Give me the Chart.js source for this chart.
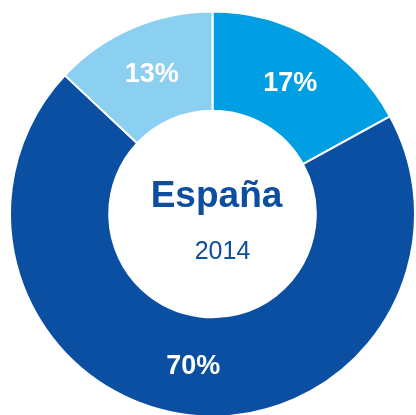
<!DOCTYPE html>
<html>
<head>
<meta charset="utf-8">
<script src="https://cdn.jsdelivr.net/npm/chart.js@4/dist/chart.umd.min.js"></script>
<style>
  html, body { margin: 0; padding: 0; background: #fff; overflow: hidden; }
  #wrap { position: relative; width: 416px; height: 420px; }
</style>
</head>
<body>
<div id="wrap"><canvas id="myChart"></canvas></div>
<script>
// datos del gráfico
const labels = ["Segmento A", "Segmento B", "Segmento C"];
const values = [17, 70, 13];
const colors = ["#009fe3", "#0b4fa3", "#8cd0f1"];
const centerTitle = "España";
const centerSub = "2014";

const FONT = "'Liberation Sans', Arial, sans-serif";

// etiquetas de porcentaje + texto central
const labelPlugin = {
  id: "labelPlugin",
  afterDraw(chart) {
    const ctx = chart.ctx;
    const meta = chart.getDatasetMeta(0);
    ctx.save();
    ctx.textAlign = "center";
    ctx.textBaseline = "middle";
    ctx.fillStyle = "#fff";
    ctx.font = "bold 27px " + FONT;
    meta.data.forEach((arc, i) => {
      const p = arc.tooltipPosition();
      ctx.fillText(values[i] + "%", p.x, p.y + 1);
    });

    const cx = meta.data[0].x;
    const cy = meta.data[0].y;
    ctx.fillStyle = "#0d4ea0";
    ctx.font = "bold 37px " + FONT;
    ctx.fillText(centerTitle, cx + 4, cy - 17);
    ctx.font = "25px " + FONT;
    ctx.fillText(centerSub, cx + 10, cy + 38);
    ctx.restore();
  }
};

const ctx = document.getElementById("myChart").getContext("2d");
new Chart(ctx, {
  type: "doughnut",
  data: {
    labels: labels,
    datasets: [{
      data: values,
      backgroundColor: colors,
      borderColor: "#fff",
      borderWidth: 2
    }]
  },
  options: {
    responsive: true,
    maintainAspectRatio: false,
    animation: false,
    cutout: "51%",
    layout: { padding: { left: 9, right: 0, top: 10, bottom: 2 } },
    plugins: {
      legend: { display: false },
      tooltip: { enabled: false }
    }
  },
  plugins: [labelPlugin]
});
</script>
</body>
</html>
